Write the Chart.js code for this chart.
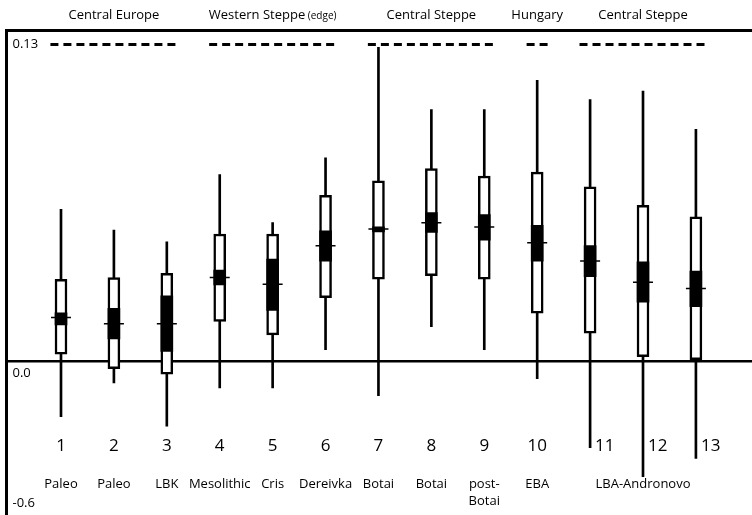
<!DOCTYPE html>
<html>
<head>
<meta charset="utf-8">
<script src="https://cdn.jsdelivr.net/npm/chart.js@4/dist/chart.umd.min.js"></script>
<style>
    html, body { margin: 0; padding: 0; background: #fff; }
    canvas { display: block; }
</style>
</head>
<body>
<canvas id="chart" width="752" height="515"></canvas>
<script>
// Sample numbers and names (bottom rows)
var sampleNumbers = ['1', '2', '3', '4', '5', '6', '7', '8', '9', '10', '11', '12', '13']
var sampleNames = ['Paleo', 'Paleo', 'LBK', 'Mesolithic', 'Cris', 'Dereivka', 'Botai', 'Botai',
    'post-\nBotai', 'EBA', '', 'LBA-Andronovo', '']

// Regions above the frame, with first / last sample of each
var regionNames = ['Central Europe', 'Western Steppe (edge)', 'Central Steppe', 'Hungary', 'Central Steppe']
var regionFirst = [1, 4, 7, 10, 11]
var regionLast  = [3, 6, 9, 10, 13]
var regionLevel = 0.13

// Whiskers
var whiskerLow  = [-0.0227, -0.0088, -0.0266, -0.0109, -0.0109, 0.0048, -0.0140, 0.0143, 0.0048, -0.0071, -0.0354, -0.0473, -0.0398]
var whiskerHigh = [0.0624, 0.0539, 0.0491, 0.0767, 0.0570, 0.0835, 0.1289, 0.1033, 0.1033, 0.1153, 0.1075, 0.1109, 0.0952]

// Outer (white) boxes
var outerLow  = [0.0030, -0.0030, -0.0052, 0.0164, 0.0109, 0.0262, 0.0338, 0.0352, 0.0338, 0.0198, 0.0116, 0.0020, 0.0007]
var outerHigh = [0.0337, 0.0344, 0.0362, 0.0523, 0.0523, 0.0682, 0.0741, 0.0791, 0.0761, 0.0777, 0.0716, 0.0641, 0.0593]

// Inner (black) boxes
var innerLow  = [0.0150, 0.0092, 0.0041, 0.0314, 0.0209, 0.0412, 0.0532, 0.0529, 0.0498, 0.0412, 0.0348, 0.0243, 0.0225]
var innerHigh = [0.0200, 0.0218, 0.0269, 0.0375, 0.0420, 0.0536, 0.0552, 0.0611, 0.0603, 0.0559, 0.0475, 0.0409, 0.0371]

// Centre marks
var centreValues = [0.0180, 0.0155, 0.0155, 0.0344, 0.0317, 0.0475, 0.0543, 0.0569, 0.0552, 0.0487, 0.0412, 0.0325, 0.0299]

// Y axis ticks
var yTickValues = [-0.058, 0, 0.13]
var yTickLabels = ['-0.6', ['', '0.0'], '0.13']

var FONT = '"Open Sans", "DejaVu Sans", sans-serif'

function floating(low, high) {
    return low.map(function (v, i) {
        return { x: i + 1, y: [v, high[i]] }
    })
}

var datasets = [
    {
        type: 'scatter',
        data: centreValues.map(function (v, i) { return { x: i + 1, y: v } }),
        pointStyle: 'line',
        pointRadius: 10,
        pointHoverRadius: 10,
        borderColor: '#000',
        borderWidth: 1.5,
        order: 0
    },
    {
        type: 'bar',
        data: floating(innerLow, innerHigh),
        backgroundColor: '#000',
        borderWidth: 0,
        barThickness: 12,
        grouped: false,
        order: 1
    },
    {
        type: 'bar',
        data: floating(outerLow, outerHigh),
        backgroundColor: '#fff',
        borderColor: '#000',
        borderWidth: 2.5,
        borderSkipped: false,
        barThickness: 12,
        grouped: false,
        order: 2
    },
    {
        type: 'bar',
        data: floating(whiskerLow, whiskerHigh),
        backgroundColor: '#000',
        borderWidth: 0,
        barThickness: 2,
        grouped: false,
        order: 3
    }
]

// Dashed region markers along the top
regionFirst.forEach(function (first, i) {
    datasets.push({
        type: 'line',
        data: [
            { x: first - 0.2, y: regionLevel },
            { x: regionLast[i] + 0.2, y: regionLevel }
        ],
        borderColor: '#000',
        borderWidth: 3,
        borderDash: [8, 5],
        pointRadius: 0,
        order: 4
    })
})

// Text that sits inside the frame and above it
var labelsPlugin = {
    id: 'labels',
    afterDraw: function (chart) {
        var ctx = chart.ctx
        var x = chart.scales.x
        var y = chart.scales.y
        ctx.save()
        ctx.fillStyle = '#000'
        ctx.textBaseline = 'middle'

        // region titles
        regionNames.forEach(function (name, i) {
            var cx = x.getPixelForValue((regionFirst[i] + regionLast[i]) / 2)
            var m = name.match(/^(.*?)(\s\(.*\))?$/)
            ctx.font = '13px ' + FONT
            var w1 = ctx.measureText(m[1]).width
            var w2 = 0
            if (m[2]) {
                ctx.font = '10px ' + FONT
                w2 = ctx.measureText(m[2]).width
            }
            var left = cx - (w1 + w2) / 2
            ctx.textAlign = 'left'
            ctx.font = '13px ' + FONT
            ctx.fillText(m[1], left, 15)
            if (m[2]) {
                ctx.font = '10px ' + FONT
                ctx.fillText(m[2], left + w1, 16)
            }
        })

        // sample numbers, moved beside whiskers that run through them
        ctx.font = '17px ' + FONT
        sampleNumbers.forEach(function (num, i) {
            var px = x.getPixelForValue(i + 1)
            if (y.getPixelForValue(whiskerLow[i]) > 436) {
                ctx.textAlign = 'left'
                ctx.fillText(num, px + 5, 446)
            } else {
                ctx.textAlign = 'center'
                ctx.fillText(num, px, 446)
            }
        })

        // sample names
        ctx.font = '13px ' + FONT
        ctx.textAlign = 'center'
        sampleNames.forEach(function (name, i) {
            var px = x.getPixelForValue(i + 1)
            name.split('\n').forEach(function (line, j) {
                ctx.fillText(line, px, 484 + j * 17)
            })
        })
        ctx.restore()
    }
}

new Chart(document.getElementById('chart'), {
    data: { datasets: datasets },
    options: {
        responsive: false,
        animation: false,
        layout: {
            autoPadding: false,
            padding: { top: 30, left: 6.5, right: 0, bottom: 0 }
        },
        plugins: {
            legend: { display: false },
            tooltip: { enabled: false }
        },
        scales: {
            x: {
                type: 'linear',
                display: false,
                offset: false,
                min: -0.03,
                max: 14.06
            },
            xTop: {
                type: 'linear',
                position: 'top',
                offset: false,
                min: -0.03,
                max: 14.06,
                grid: { display: false, drawTicks: false },
                ticks: { display: false },
                border: { display: true, color: '#000', width: 3 }
            },
            y: {
                type: 'linear',
                min: -0.063,
                max: 0.136,
                afterBuildTicks: function (scale) {
                    scale.ticks = yTickValues.map(function (v) { return { value: v } })
                },
                afterFit: function (scale) {
                    // labels sit inside the frame, no extra room needed
                    scale.width = 0
                    scale.paddingTop = 0
                    scale.paddingBottom = 0
                },
                ticks: {
                    mirror: true,
                    padding: 6,
                    color: '#000',
                    font: { size: 13, family: FONT, lineHeight: '24px' },
                    callback: function (value, index) {
                        return yTickLabels[index]
                    }
                },
                grid: {
                    drawTicks: false,
                    lineWidth: 2.5,
                    color: function (ctx) {
                        return ctx.tick && ctx.tick.value === 0 ? '#000' : 'rgba(0,0,0,0)'
                    }
                },
                border: { display: true, color: '#000', width: 3 }
            }
        }
    },
    plugins: [labelsPlugin]
})
</script>
</body>
</html>
